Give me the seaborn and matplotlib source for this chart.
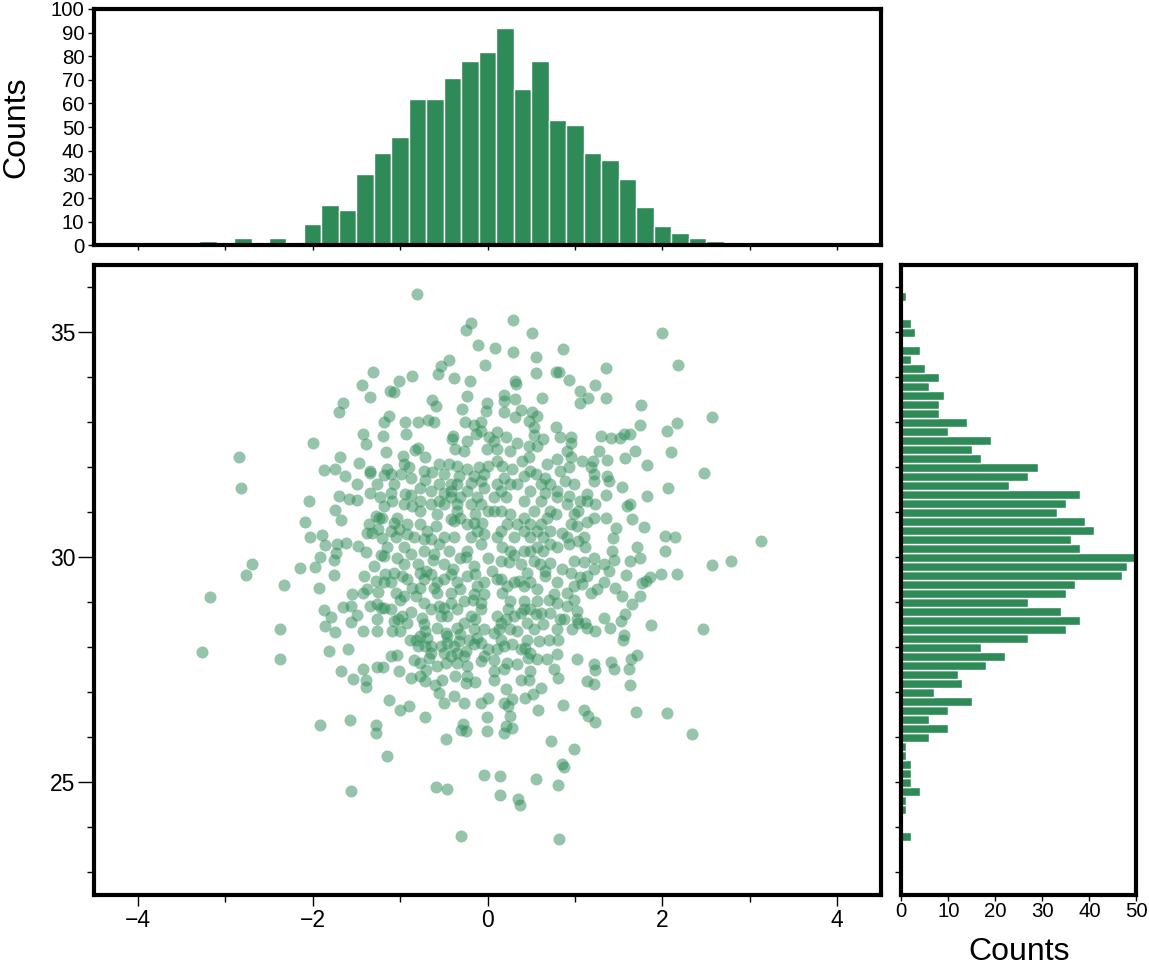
import numpy as np
import pandas as pd
import matplotlib
matplotlib.use("Agg")
import matplotlib.pyplot as plt
import seaborn as sns
from matplotlib.ticker import MultipleLocator

sns.set_theme(style="white")
plt.rcParams['font.family'] = ['Liberation Sans', 'DejaVu Sans']

FILL = "#2E8B57"

# ---- scatter points ----
x_vals = [
-0.81,-0.19,-0.25,-0.11,-0.44,-0.53,-0.57,-0.03,-0.38,-0.20,-1.31,-1.44,-1.01,-0.86,-1.12,-1.07,-1.34,-1.65,-1.70,-0.24,
-0.64,-0.59,-0.01,-0.29,-0.02,-1.13,-1.18,-0.94,-0.80,-0.68,-0.61,-0.26,-0.16,-0.07,-0.08,-1.43,-1.20,-0.93,-1.39,-0.40,
-0.41,-0.23,-0.13,0.02,-2.00,-2.84,-2.82,-1.16,-0.80,-0.83,-0.37,-0.27,-0.01,-1.69,-0.71,-0.97,-1.47,-1.87,-1.75,-1.35,
-1.35,-1.63,-1.15,-1.11,-1.18,-0.96,-0.90,-0.99,-1.07,-1.49,-1.35,-1.23,-1.11,-0.94,-0.88,-0.77,-0.64,-0.56,-0.44,-0.35,
-0.23,-0.10,0.00,-0.33,-0.19,-0.56,-0.42,-0.50,-0.71,-2.04,-1.70,-1.58,-1.49,-1.74,-2.09,-1.68,-2.03,-1.89,-1.86,-1.72,
-1.62,-1.48,-1.92,-1.73,-1.76,-2.69,-2.14,-1.97,-1.39,-1.28,-1.24,-1.36,-1.38,-1.32,-1.21,-1.25,-1.15,-1.18,-1.07,-1.01,
-1.05,-0.92,-0.96,-0.88,-0.77,-0.77,-0.65,-0.58,-0.59,-0.65,-0.73,-0.73,-0.61,-0.50,-0.44,-0.42,-0.38,-0.35,-0.31,-0.42,
-0.50,-0.19,-0.12,-0.14,-0.06,-0.16,-0.04,-0.08,-0.23,-0.31,0.00,-1.03,-0.80,-0.50,-1.18,-1.09,-0.86,-0.65,-0.08,-0.04,
0.00,-1.22,
0.29,0.51,0.08,0.29,0.55,0.86,2.00,2.18,0.56,0.78,0.82,0.93,1.36,0.31,0.33,1.23,1.06,1.15,1.06,1.35,
0.62,0.19,0.19,0.32,0.19,0.38,0.51,0.57,1.76,2.57,2.17,2.05,1.74,1.63,1.56,1.52,1.41,1.30,0.78,0.83,
0.95,0.96,0.53,0.53,0.64,0.57,0.11,0.21,0.34,0.47,2.10,1.69,1.27,1.57,1.82,2.48,1.37,1.21,1.08,0.95,
0.93,0.80,0.47,0.40,0.11,0.11,0.28,0.17,0.42,0.55,0.66,0.72,0.83,0.89,1.18,1.22,1.37,1.39,1.22,1.54,
2.07,1.82,1.63,1.60,1.65,1.79,1.47,1.44,1.35,1.14,1.23,1.14,1.03,1.22,1.14,1.35,1.02,0.95,0.85,1.04,
0.93,0.80,1.12,1.22,1.42,1.33,1.63,1.75,1.71,2.03,2.03,2.15,3.13,2.79,2.57,0.80,0.66,0.61,0.80,0.93,
0.91,0.72,0.78,0.49,0.42,0.26,0.15,0.07,0.21,0.07,0.26,0.42,0.49,0.61,0.15,0.30,0.49,0.64,0.17,0.42,
0.57,0.15,0.53,0.72,0.99,0.38,0.32,0.47,
-2.76,-3.17,-3.27,-2.33,-2.38,-2.38,-1.93,-1.76,-1.87,-1.79,-1.86,-1.75,-1.81,-1.60,-1.68,-1.43,-1.54,-1.39,-1.39,-1.65,
-1.56,-1.49,-1.56,-1.42,-1.55,-1.43,-1.41,-1.25,-1.28,-1.18,-1.26,-1.27,-1.22,-1.18,-1.26,-1.20,-1.01,-1.10,-1.03,-1.13,
-1.00,-0.90,-1.92,-1.57,-1.28,-1.28,-1.15,-1.56,-0.72,-0.59,-0.46,-0.30,-0.48,-0.28,-0.30,-0.25,-0.04,-0.01,-0.01,-0.27,
-0.50,-0.56,-0.38,-0.08,0.00,-0.14,-0.25,-0.37,-0.52,-0.60,-0.72,-0.70,-0.48,-0.23,-0.84,-0.77,-0.67,-0.65,-0.50,-0.35,
-0.27,-0.08,0.00,-0.16,-0.25,-0.33,-0.38,-0.42,-0.53,-0.71,-0.80,-0.89,-0.82,-0.69,-0.46,-0.31,-0.21,-0.12,-0.04,-1.09,
-1.00,-1.07,-1.02,-0.98,-0.88,-0.75,-0.73,-0.71,-0.58,-0.48,-0.35,-0.19,-0.08,-0.14,-0.56,-0.50,-0.46,-0.58,-0.42,-0.61,
-0.77,-0.82,-0.96,-1.00,-1.05,-0.98,-1.07,-0.77,-0.65,-0.42,-0.35,-0.23,-0.14,-0.04,-0.16,-0.04,-0.27,-0.17,-0.58,-0.86,
-1.17,-1.26,-0.88,-0.77,
0.82,0.14,0.14,0.35,0.37,0.56,0.81,0.85,0.88,0.99,0.73,2.34,2.05,1.70,1.23,1.15,1.10,0.86,0.58,0.19,
0.28,0.26,0.24,0.19,0.21,0.28,0.43,0.52,0.61,0.48,0.49,0.81,0.76,1.02,1.14,1.22,1.23,1.22,1.45,1.41,
1.63,1.62,1.64,1.71,1.87,2.46,1.55,1.56,1.53,1.57,1.40,1.33,1.23,1.12,1.04,0.97,0.87,0.80,0.81,0.70,
0.79,0.68,0.57,0.46,0.34,0.22,0.07,0.07,0.59,0.45,0.28,0.19,0.34,0.45,0.55,0.64,0.49,0.42,0.26,0.17,
0.11,0.21,0.07,0.30,0.36,0.15,0.66,0.66,0.80,0.76,0.70,0.83,0.95,1.06,1.08,1.18,0.99,0.91,1.33,1.39,
1.46,1.54,1.65,1.75,1.77,1.81,1.86,1.98,2.17,1.59,1.22,1.02,0.91,0.57,0.24,0.38,0.13,0.43,0.21,
# dense-core points
-1.21,-1.03,-1.10,-0.92,-0.84,-0.69,-0.56,-0.38,-0.31,-0.23,-0.12,-0.19,-0.35,-0.42,-0.23,-0.08,
-0.56,-0.77,-0.96,-0.73,-0.50,-0.16,-0.35,-0.04,-0.88,-1.26,
0.07,0.26,0.19,0.34,0.11,0.15,0.22,0.34,0.42,0.11,0.26,0.49,0.64,0.72,0.57,0.72,0.68,0.53,0.61,0.49,
0.68,0.91,0.99,1.06,0.99,0.91,1.10,
-0.73,-0.65,-0.53,-0.42,-0.35,-0.27,-0.16,-0.08,-0.04,-0.23,-0.58,-0.65,-0.77,-0.92,-1.11,-1.34,
-1.38,-1.11,-0.92,-0.73,-0.50,-0.31,-0.12,-0.08,-0.46,-0.35,
0.11,0.22,0.42,0.49,0.57,0.42,0.30,0.15,0.26,0.53,0.61,0.72,0.80,0.99,1.14,1.25,1.02,1.14,0.15,0.11,
0.38,0.49,0.19,0.07,0.38,
-0.95,-0.62,-0.40,-0.15,0.05,0.25,0.45,0.60,0.85,1.10,-1.30,1.45,-0.70,0.30,-0.25,
]
y_vals = [
35.86,35.21,35.06,34.72,34.39,34.25,34.08,34.27,33.99,33.91,34.11,33.82,33.92,34.03,33.70,33.67,33.56,33.44,33.24,33.59,
33.50,33.37,33.44,33.30,33.26,33.15,33.01,33.01,33.00,33.05,33.01,33.01,32.95,33.00,32.81,32.74,32.69,32.75,32.52,32.70,
32.63,32.59,32.74,32.67,32.55,32.24,31.54,32.35,32.44,32.38,32.41,32.37,32.41,32.23,32.23,32.26,32.10,31.95,31.97,31.92,
31.88,31.81,31.96,31.86,31.83,32.07,32.01,31.85,31.63,31.63,31.44,31.35,31.44,31.40,31.39,31.55,31.89,32.07,32.07,32.03,
31.96,32.00,32.03,31.81,31.66,31.63,31.63,31.44,31.71,31.25,31.37,31.29,31.27,31.05,30.79,30.82,30.45,30.50,30.27,30.30,
30.32,30.24,30.01,30.10,29.93,29.84,29.77,29.78,30.12,30.92,30.88,30.73,30.55,30.55,30.42,30.62,30.22,30.03,30.77,30.62,
30.44,30.51,30.22,30.07,31.03,30.73,31.18,30.96,30.70,30.40,30.40,30.14,30.08,30.44,30.14,30.85,30.81,31.03,31.33,31.33,
31.18,31.18,31.33,30.96,30.77,30.77,30.51,30.29,30.14,29.99,29.99,29.99,29.84,29.84,31.14,31.25,31.14,31.48,31.70,31.55,
31.03,30.05,
35.28,34.99,34.65,34.57,34.45,34.63,34.99,34.28,34.09,34.13,34.13,33.95,34.21,33.91,33.85,33.84,33.70,33.54,33.44,33.54,
33.54,33.60,33.47,33.52,33.22,33.27,33.22,33.15,33.39,33.11,32.98,32.81,32.95,32.75,32.74,32.65,32.65,32.70,32.90,32.67,
32.67,32.53,32.89,32.72,32.62,32.48,32.78,32.67,32.55,32.48,32.35,32.37,32.37,32.20,32.05,31.87,32.16,32.15,32.13,32.22,
32.00,32.18,32.22,32.15,32.41,32.15,31.96,32.03,31.81,31.85,31.77,31.63,31.92,31.70,32.00,31.85,31.81,31.70,31.70,31.57,
31.54,31.37,31.18,31.14,30.85,30.68,30.64,30.42,31.39,31.40,31.18,31.25,31.03,30.88,30.79,30.88,30.70,30.73,30.55,30.36,
30.29,30.22,30.22,29.99,30.14,29.84,29.92,29.99,30.22,30.14,30.48,30.45,30.36,29.92,29.82,31.48,31.44,31.25,31.33,31.37,
31.18,31.03,30.96,31.48,31.25,31.63,31.48,31.33,31.33,31.03,30.96,30.88,30.73,30.73,30.59,30.44,30.44,30.44,30.22,30.14,
30.22,29.92,29.92,29.88,29.92,29.84,33.11,33.04,
29.60,29.12,27.89,29.39,28.40,27.74,29.32,29.60,28.82,28.67,28.47,28.34,27.91,27.95,27.48,27.52,27.30,27.26,27.12,28.89,
28.92,28.72,28.56,28.36,29.18,29.21,29.58,29.23,29.47,29.44,28.62,28.36,28.88,28.88,27.56,27.56,27.47,27.80,27.82,26.82,
26.61,26.70,26.27,26.39,26.28,26.10,25.59,24.80,26.44,24.89,24.85,23.80,25.96,26.30,26.15,26.13,25.15,26.13,26.45,26.75,
26.75,26.99,26.91,26.76,26.87,27.22,27.21,27.36,27.28,27.17,27.24,27.49,27.65,27.36,27.71,27.65,27.76,27.88,27.88,27.65,
27.80,27.69,27.95,28.06,27.91,28.14,28.03,27.80,28.03,28.03,28.03,28.17,28.17,28.21,28.25,28.29,28.17,28.21,28.40,28.36,
28.37,28.58,28.62,28.69,28.78,28.66,28.51,28.36,28.43,28.32,28.43,28.69,28.84,28.62,28.92,28.88,28.69,29.21,29.21,29.32,
29.32,29.14,29.14,29.06,29.21,29.58,29.66,29.66,29.62,29.62,29.44,29.58,29.62,29.44,29.18,29.18,29.03,29.06,29.44,29.32,
29.62,28.95,27.32,27.36,
23.74,25.13,24.72,24.62,24.48,25.06,24.93,25.40,25.33,25.74,25.91,26.06,26.53,26.56,26.33,26.46,26.61,26.72,26.60,26.10,
26.21,26.47,26.69,26.76,27.06,26.84,26.87,26.95,27.10,27.27,27.47,27.32,27.52,27.74,27.25,27.19,27.49,27.63,27.52,27.67,
27.17,27.52,27.73,27.82,28.49,28.41,28.15,28.28,28.58,28.73,28.42,28.64,28.36,28.53,28.54,28.41,28.63,28.40,28.17,28.17,
27.84,27.73,27.73,27.77,27.63,27.65,27.71,27.47,28.14,28.17,28.06,28.03,28.36,28.54,28.73,28.51,28.84,29.03,29.03,29.21,
28.69,28.62,28.32,29.44,29.47,29.51,29.58,29.70,29.45,29.18,29.06,28.62,29.66,29.55,29.40,29.21,29.06,29.21,29.44,29.70,
29.32,29.14,28.95,29.14,29.42,29.47,29.57,29.62,29.62,29.60,29.73,28.80,28.92,29.03,28.84,28.77,28.40,27.99,26.24,
# dense-core points
30.88,30.88,30.59,30.73,30.44,30.59,30.29,30.44,30.88,30.73,30.59,30.44,31.18,31.48,31.48,31.18,
31.25,31.25,31.18,31.92,31.85,31.81,31.63,31.85,31.77,31.63,
32.59,32.37,31.77,31.63,31.63,31.03,30.73,30.73,30.59,30.44,30.14,30.14,30.14,30.29,30.59,30.59,30.88,31.03,31.63,31.92,
32.07,32.37,31.63,31.25,30.96,30.44,30.44,
28.99,28.84,28.69,28.99,28.84,28.54,28.40,28.10,27.80,27.58,27.58,28.03,28.25,28.54,28.84,28.92,
29.29,29.44,29.51,29.51,29.51,29.29,29.36,28.99,28.10,27.88,
29.51,29.36,29.36,29.44,29.29,28.84,28.69,28.54,28.40,28.40,28.77,28.77,28.99,29.36,29.58,29.29,28.62,28.43,28.17,27.95,
27.95,27.88,27.51,27.28,27.28,
29.85,29.95,29.75,29.80,29.70,29.90,29.65,29.85,29.75,29.90,29.80,29.95,29.70,30.05,30.00,
]

# ---- top histogram (x), bin width 0.2 ----
top_centers = [-3.2,-3.0,-2.8,-2.6,-2.4,-2.2,-2.0,-1.8,-1.6,-1.4,-1.2,-1.0,-0.8,-0.6,-0.4,-0.2,
               0.0,0.2,0.4,0.6,0.8,1.0,1.2,1.4,1.6,1.8,2.0,2.2,2.4,2.6,2.8,3.0,3.2]
top_counts = [2,0,3,0,3,0,9,17,15,30,39,46,62,62,71,78,
              82,92,66,78,53,51,39,36,28,16,8,5,3,2,1,0,1]

# ---- right histogram (y), bin width 0.2 ----
right_centers = [23.8,24.0,24.2,24.4,24.6,24.8,25.0,25.2,25.4,25.6,25.8,26.0,26.2,26.4,26.6,26.8,
                 27.0,27.2,27.4,27.6,27.8,28.0,28.2,28.4,28.6,28.8,29.0,29.2,29.4,29.6,29.8,30.0,
                 30.2,30.4,30.6,30.8,31.0,31.2,31.4,31.6,31.8,32.0,32.2,32.4,32.6,32.8,33.0,33.2,
                 33.4,33.6,33.8,34.0,34.2,34.4,34.6,34.8,35.0,35.2,35.4,35.6,35.8]
right_counts = [2,0,0,1,1,4,2,2,2,1,1,6,10,6,10,15,
                7,13,12,18,22,17,27,35,38,34,27,35,37,47,48,50,
                38,36,41,39,33,35,38,23,27,29,17,15,19,10,14,8,
                8,9,6,8,5,2,4,0,3,2,0,0,1]

fig = plt.figure(figsize=(11.49, 9.66), dpi=100)
ax_main = fig.add_axes([0.0820, 0.0740, 0.6846, 0.6517])
ax_top = fig.add_axes([0.0820, 0.7461, 0.6846, 0.2446])
ax_right = fig.add_axes([0.7844, 0.0740, 0.2047, 0.6517])

df = pd.DataFrame({"x": x_vals, "y": y_vals})
sns.scatterplot(data=df, x="x", y="y", ax=ax_main, color=FILL, s=75,
                alpha=0.5, linewidth=0, legend=False)

half = 0.1
top_edges = [c - half for c in top_centers] + [top_centers[-1] + half]
sns.histplot(x=top_centers, weights=top_counts, bins=top_edges, ax=ax_top,
             color=FILL, edgecolor="white", linewidth=1.0, alpha=1.0)

right_edges = [c - half for c in right_centers] + [right_centers[-1] + half]
sns.histplot(y=right_centers, weights=right_counts, bins=right_edges, ax=ax_right,
             color=FILL, edgecolor="white", linewidth=1.0, alpha=1.0)

SPINE_W = 3.0
for ax in (ax_main, ax_top, ax_right):
    for sp in ax.spines.values():
        sp.set_linewidth(SPINE_W)
        sp.set_color("black")
        sp.set_zorder(5)
    ax.set_facecolor("white")
    ax.set_xlabel("")
    ax.set_ylabel("")

# main axes
ax_main.set_xlim(-4.5, 4.5)
ax_main.set_ylim(22.5, 36.5)
ax_main.xaxis.set_major_locator(MultipleLocator(2))
ax_main.xaxis.set_minor_locator(MultipleLocator(1))
ax_main.yaxis.set_major_locator(MultipleLocator(5))
ax_main.yaxis.set_minor_locator(MultipleLocator(1))
ax_main.tick_params(axis="x", which="major", direction="out", length=7.6, width=1.0,
                    labelsize=16.5, pad=3, colors="black", bottom=True, top=False)
ax_main.tick_params(axis="y", which="major", direction="out", length=11.5, width=1.0,
                    labelsize=16.5, pad=2, colors="black", left=True, right=False)
ax_main.tick_params(which="minor", direction="out", length=4.7, width=1.0,
                    colors="black", bottom=True, left=True, top=False, right=False)

# top histogram
ax_top.set_xlim(-4.5, 4.5)
ax_top.set_ylim(0, 100)
ax_top.xaxis.set_major_locator(MultipleLocator(1))
ax_top.yaxis.set_major_locator(MultipleLocator(10))
ax_top.tick_params(axis="x", which="major", direction="out", length=3.6, width=1.0,
                   labelbottom=False, bottom=True, top=False, colors="black")
ax_top.tick_params(axis="y", which="major", direction="out", length=4.5, width=1.0,
                   labelsize=14.7, pad=2.5, left=True, right=False, colors="black")
ax_top.set_ylabel("Counts", fontsize=23, color="black")
ax_top.yaxis.set_label_coords(-0.0800, 0.5)

# right histogram
ax_right.set_xlim(0, 50)
ax_right.set_ylim(22.5, 36.5)
ax_right.xaxis.set_major_locator(MultipleLocator(10))
ax_right.yaxis.set_major_locator(MultipleLocator(1))
ax_right.tick_params(axis="x", which="major", direction="out", length=4.0, width=1.0,
                     labelsize=14.7, pad=1.5, bottom=True, top=False, colors="black")
ax_right.tick_params(axis="y", which="major", direction="out", length=4.5, width=1.0,
                     labelleft=False, left=True, right=False, colors="black")
ax_right.set_xlabel("Counts", fontsize=23, color="black")
ax_right.xaxis.set_label_coords(0.5, -0.0680)

fig.savefig("out.png", dpi=100)
